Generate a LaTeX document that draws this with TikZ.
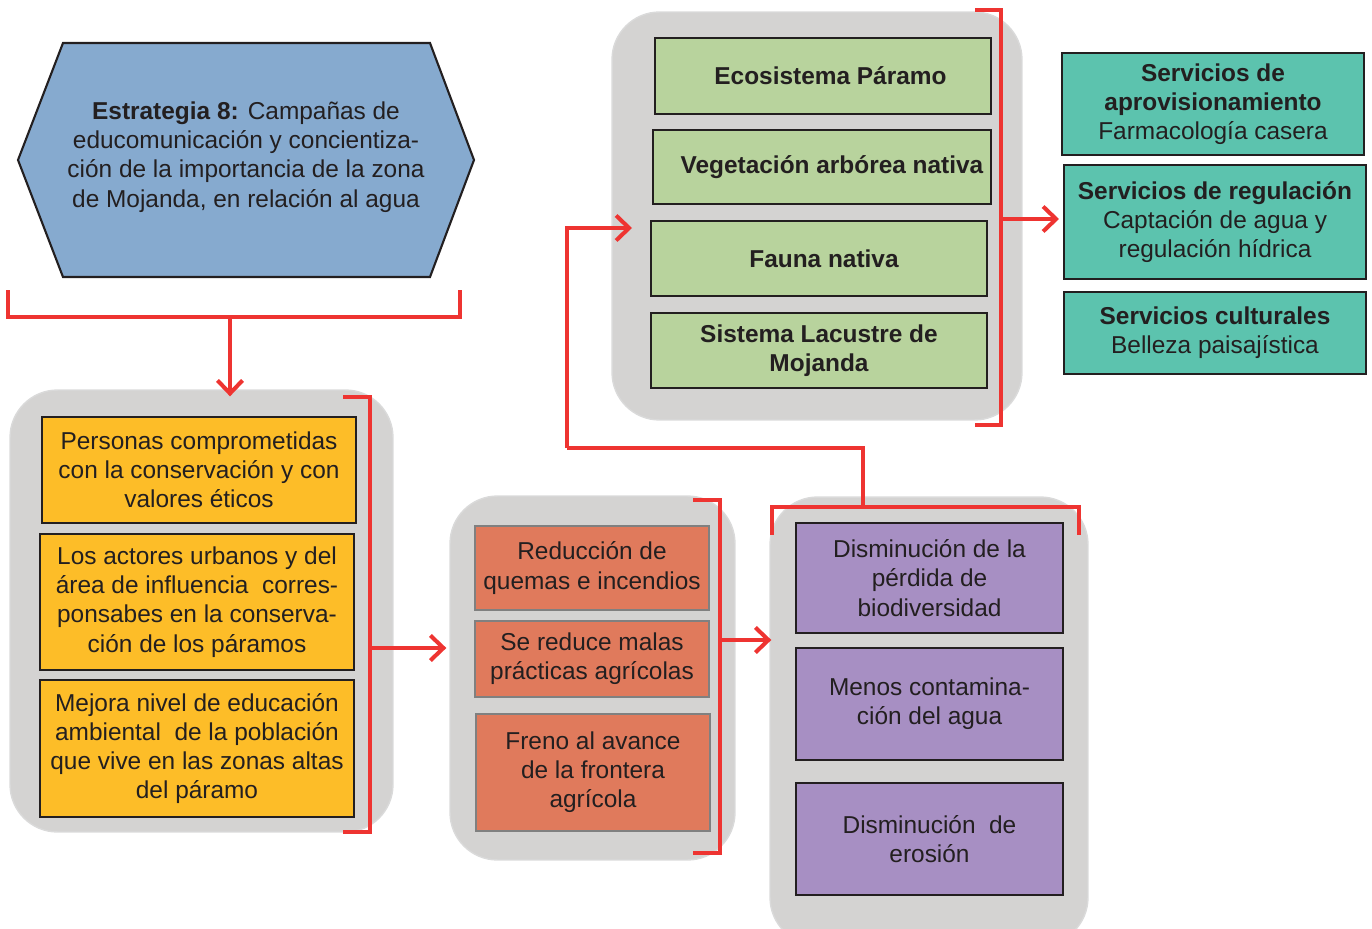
\documentclass[tikz,border=0pt]{standalone}
\usepackage{fontspec}
\setmainfont{Liberation Sans}
\usetikzlibrary{arrows.meta,positioning}
\definecolor{hexblue}{HTML}{86AACF}
\definecolor{grpgray}{HTML}{D4D3D2}
\definecolor{grpedge}{HTML}{DADADA}
\definecolor{yelbox}{HTML}{FDBD28}
\definecolor{orabox}{HTML}{E07A5C}
\definecolor{purbox}{HTML}{A78FC3}
\definecolor{grebox}{HTML}{B8D39D}
\definecolor{teabox}{HTML}{5CC3AE}
\definecolor{redline}{HTML}{EE3431}
\definecolor{txtdark}{HTML}{231F20}
\tikzset{
  grp/.style   = {fill=grpgray, draw=grpedge, line width=0.8pt, rounded corners=0.95cm},
  box/.style   = {draw=txtdark, line width=1.2pt, align=center, inner sep=1pt, text=txtdark,
                  font=\fontsize{13.9}{16.6}\selectfont},
  brak/.style  = {draw=redline, line width=2.3pt},
  line/.style  = {-{Straight Barb[length=2.6mm,width=5mm]}, draw=redline, line width=2.3pt},
}
\begin{document}
\begin{tikzpicture}[x=0.02cm,y=-0.02cm]
    \useasboundingbox (0,0) rectangle (1372,929);

    % strategy
    \fill[hexblue, draw=txtdark, line width=1.2pt]
      (63,43) -- (430,43) -- (474,160) -- (430,277) -- (63,277) -- (18,160) -- cycle;
    \node[align=center, text=txtdark, font=\fontsize{13.9}{16.6}\selectfont] (estr) at (246,157)
      {\textbf{Estrategia 8:} Campañas de\\ educomunicación y concientiza-\\ ción de la importancia de la zona\\ de Mojanda, en relación al agua};

    % grey groups
    \node[grp, minimum width=7.66cm, minimum height=8.84cm] (gA) at (201.5,611) {};
    \node[grp, minimum width=5.7cm, minimum height=7.28cm] (gB) at (592.5,678) {};
    \node[grp, minimum width=6.36cm, minimum height=8.96cm] (gC) at (929,721) {};
    \node[grp, minimum width=8.2cm, minimum height=8.16cm] (gD) at (817,216) {};

    % actors
    \node[box, fill=yelbox, minimum width=6.28cm, minimum height=2.12cm] (p1) at (199,470)
      {Personas comprometidas\\ con la conservación y con\\ valores éticos};
    \node[box, fill=yelbox, minimum width=6.28cm, minimum height=2.72cm] (p2) at (197,602)
      {Los actores urbanos y del\\ área de influencia~ corres-\\ ponsabes en la conserva-\\ ción de los páramos};
    \node[box, fill=yelbox, minimum width=6.28cm, minimum height=2.74cm] (p3) at (197,748.5)
      {Mejora nivel de educación\\ ambiental~ de la población\\ que vive en las zonas altas\\ del páramo};

    % practices
    \node[box, draw=gray, fill=orabox, minimum width=4.68cm, minimum height=1.68cm] (r1) at (592,568)
      {Reducción de\\ quemas e incendios};
    \node[box, draw=gray, fill=orabox, minimum width=4.68cm, minimum height=1.52cm] (r2) at (592,659)
      {Se reduce malas\\ prácticas agrícolas};
    \node[box, draw=gray, fill=orabox, minimum width=4.68cm, minimum height=2.34cm] (r3) at (593,772.5)
      {Freno al avance\\ de la frontera\\ agrícola};

    % effects
    \node[box, fill=purbox, minimum width=5.34cm, minimum height=2.2cm] (s1) at (929.5,578)
      {Disminución de la\\ pérdida de\\ biodiversidad};
    \node[box, fill=purbox, minimum width=5.34cm, minimum height=2.24cm] (s2) at (929.5,704)
      {Menos contamina-\\ ción del agua};
    \node[box, fill=purbox, minimum width=5.34cm, minimum height=2.24cm] (s3) at (929.5,839)
      {Disminución~ de\\ erosión};

    % ecosystem
    \node[box, fill=grebox, font=\fontsize{13.9}{16.6}\bfseries, minimum width=6.72cm, minimum height=1.52cm] (e1) at (823,76)
      {\hspace{0.3cm}Ecosistema Páramo};
    \node[box, fill=grebox, font=\fontsize{13.9}{16.6}\bfseries, minimum width=6.76cm, minimum height=1.48cm] (e2) at (822,167)
      {\hspace{0.4cm}Vegetación arbórea nativa};
    \node[box, fill=grebox, font=\fontsize{13.9}{16.6}\bfseries, minimum width=6.72cm, minimum height=1.5cm] (e3) at (819,258.5)
      {\hspace{0.2cm}Fauna nativa};
    \node[box, fill=grebox, font=\fontsize{13.9}{16.6}\bfseries, minimum width=6.72cm, minimum height=1.5cm] (e4) at (819,350.5)
      {Sistema Lacustre de\\ Mojanda};

    % services
    \node[box, fill=teabox, minimum width=6.04cm, minimum height=2.04cm] (t1) at (1213,104)
      {\textbf{Servicios de}\\ \textbf{aprovisionamiento}\\ Farmacología casera};
    \node[box, fill=teabox, minimum width=6.04cm, minimum height=2.28cm] (t2) at (1215,222)
      {\textbf{Servicios de regulación}\\ Captación de agua y\\ regulación hídrica};
    \node[box, fill=teabox, minimum width=6.04cm, minimum height=1.64cm] (t3) at (1215,333)
      {\textbf{Servicios culturales}\\ Belleza paisajística};

    % brackets
    \coordinate (b0) at (230,317);
    \coordinate (bA) at (370,648);
    \coordinate (bB) at (720,640);
    \coordinate (bC) at (863,507);
    \coordinate (bD) at (1001,219);
    \coordinate (jn) at (567,448);
    \coordinate (dIn) at (632,228);
    \draw[brak] (8,290) |- (460,317) -- (460,290);
    \draw[brak] (343,397) -| (370,832) -- (343,832);
    \draw[brak] (693,500) -| (720,853) -- (693,853);
    \draw[brak] (772,535) |- (1079,507) -- (1079,535);
    \draw[brak] (975,10) -| (1001,425) -- (975,425);

    % flow
    \draw[line] (b0) -- ([yshift=-0.14cm]b0 |- gA.north);
    \draw[line] (bA) -- ([xshift=-0.06cm]bA -| gB.west);
    \draw[line] (bB) -- ([xshift=0.04cm]bB -| gC.west);
    \draw[brak] (bC) -- (bC |- jn) -- (jn);
    \draw[line] (jn) |- (dIn);
    \draw[line] (bD) -- ([xshift=-0.08cm]bD -| t2.west);
  \end{tikzpicture}
\end{document}
